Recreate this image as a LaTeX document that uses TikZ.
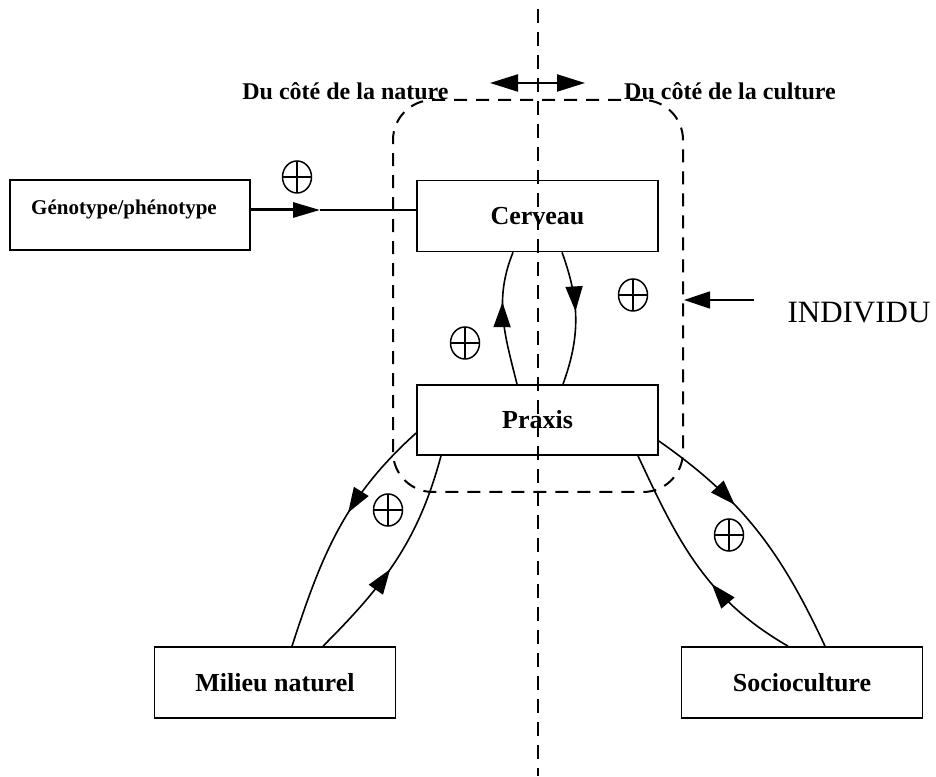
\documentclass[tikz,border=0pt]{standalone}
\usepackage{fontspec}
\setmainfont{Liberation Serif}
\usetikzlibrary{arrows.meta,decorations.markings,shapes.geometric}

\tikzset{
  boite/.style={draw, line width=1.7pt, minimum width=241pt, minimum height=71pt,
    inner sep=0pt, font=\fontsize{26}{28}\selectfont\bfseries},
  cote/.style={font=\fontsize{24}{26}\selectfont\bfseries},
  signeplus/.style={ellipse, draw, line width=1.5pt, minimum width=29pt, minimum height=32pt, inner sep=0pt,
    path picture={
      \draw[line width=2.8pt] (path picture bounding box.west) -- (path picture bounding box.east);
      \draw[line width=1.5pt] (path picture bounding box.north) -- (path picture bounding box.south);}},
  fleche/.style={line width=1.6pt, postaction={decorate},
    decoration={markings, mark=at position #1 with {\arrow{Triangle[length=25pt,width=17pt]}}}},
  coupure/.style={line width=2.6pt, dash pattern=on 14pt off 9pt},
}

\begin{document}
\begin{tikzpicture}[x=1pt,y=1pt]
    \useasboundingbox (0,0) rectangle (936,776);

    % ligne de partage
    \coordinate (haut) at (538,767);
    \coordinate (bas) at (538,0);
    \draw[coupure] (haut) -- (bas);

    % l'individu
    \node[draw, line width=2pt, dash pattern=on 13pt off 9pt, rounded corners=40pt,
      minimum width=290pt, minimum height=392pt] (indiv) at (538,480) {};

    \node[boite] (cerveau) at (537.5,560) {Cerveau};
    \node[boite, minimum height=70pt] (praxis) at (537.5,356) {Praxis};
    \node[boite, minimum width=240pt, minimum height=70pt] (geno) at (130,561) {};
    \node[font=\fontsize{21}{23}\selectfont\bfseries, anchor=base] (genotexte) at (124,561) {Génotype/phénotype};
    \node[boite] (milieu) at (275,93.5) {Milieu naturel};
    \node[boite] (socio) at (802,93.5) {Socioculture};

    \node[cote] (nature) at (345.5,685) {Du côté de la nature};
    \node[cote] (culture) at (730,685) {Du côté de la culture};
    \node[font=\fontsize{31}{33}\selectfont] (individu) at (859,463) {INDIVIDU};

    % fleches
    \coordinate (gauche) at (490,693);
    \coordinate (droite) at (585,693);
    \draw[line width=2.2pt, {Triangle[length=28pt,width=17pt]}-{Triangle[length=28pt,width=17pt]}]
      (gauche) -- (droite);

    \coordinate (depart) at (754,476);
    \draw[line width=1.5pt, -{Triangle[length=26pt,width=17pt]}] (depart) -- (indiv.east |- depart);

    \coordinate (gmid) at (320,566);
    \draw[line width=3pt, -{Triangle[length=27pt,width=15pt]}] (geno.east |- gmid) -- (gmid);
    \draw[line width=1.5pt] (gmid) -- (cerveau.west |- gmid);

    \draw[fleche=0.62] ([xshift=-20.5pt]praxis.north) to[out=104,in=-112] ([xshift=-24.5pt]cerveau.south);
    \draw[fleche=0.45] ([xshift=24.5pt]cerveau.south) to[out=-70,in=70] ([xshift=25.5pt]praxis.north);

    \draw[fleche=0.42] ([yshift=-13pt]praxis.west) to[out=-138,in=72] ([xshift=17pt]milieu.north);
    \draw[fleche=0.45] ([xshift=48pt]milieu.north) to[out=45,in=-105] ([xshift=-96.5pt]praxis.south);

    \draw[fleche=0.37] ([yshift=-21pt]praxis.east) to[out=-35,in=115] ([xshift=23pt]socio.north);
    \draw[fleche=0.4] ([xshift=-14pt]socio.north) to[out=150,in=-65] ([xshift=100.5pt]praxis.south);

    % signes plus
    \node[signeplus] (p1) at (297,599) {};
    \node[signeplus] (p2) at (465,433) {};
    \node[signeplus] (p3) at (633,481) {};
    \node[signeplus] (p4) at (388,266) {};
    \node[signeplus] (p5) at (729,241) {};
\end{tikzpicture}
\end{document}
